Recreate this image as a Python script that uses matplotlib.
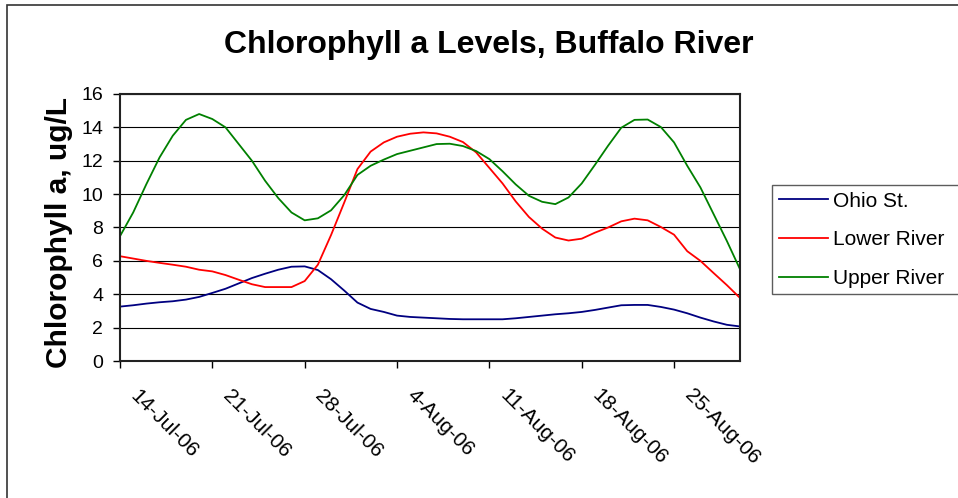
import matplotlib
matplotlib.use("Agg")
import matplotlib.pyplot as plt
import matplotlib.transforms as mtransforms
from matplotlib.patches import Rectangle
import pandas as pd

plt.rcParams['font.family'] = ['Liberation Sans', 'DejaVu Sans']

# daily readings, 14-Jul-06 .. 30-Aug-06
dates = pd.date_range('2006-07-14', '2006-08-30', freq='D')

ohio_st = [3.26, 3.34, 3.44, 3.52, 3.58, 3.68, 3.84, 4.08, 4.33, 4.65, 4.97, 5.23,
           5.47, 5.65, 5.67, 5.45, 4.90, 4.22, 3.50, 3.12, 2.94, 2.72, 2.64, 2.60,
           2.56, 2.52, 2.50, 2.50, 2.50, 2.50, 2.56, 2.64, 2.72, 2.80, 2.86, 2.94,
           3.06, 3.20, 3.34, 3.36, 3.36, 3.24, 3.08, 2.86, 2.60, 2.37, 2.17, 2.07]

lower_river = [6.28, 6.14, 6.00, 5.88, 5.77, 5.65, 5.47, 5.37, 5.15, 4.87, 4.60, 4.43,
               4.43, 4.43, 4.79, 5.77, 7.55, 9.50, 11.50, 12.55, 13.10, 13.44, 13.62, 13.70,
               13.64, 13.44, 13.12, 12.50, 11.57, 10.64, 9.56, 8.63, 7.93, 7.40, 7.22, 7.33,
               7.69, 8.00, 8.37, 8.53, 8.43, 8.03, 7.57, 6.58, 6.00, 5.27, 4.55, 3.78]

upper_river = [7.48, 8.90, 10.60, 12.20, 13.50, 14.45, 14.80, 14.50, 14.00, 13.00, 12.00, 10.80,
               9.76, 8.90, 8.43, 8.55, 9.03, 9.94, 11.15, 11.70, 12.07, 12.40, 12.60, 12.80,
               13.00, 13.02, 12.88, 12.58, 12.10, 11.37, 10.58, 9.90, 9.54, 9.40, 9.80, 10.64,
               11.75, 12.90, 13.98, 14.45, 14.47, 14.02, 13.10, 11.70, 10.40, 8.80, 7.20, 5.50]

tick_dates = pd.to_datetime(['2006-07-14', '2006-07-21', '2006-07-28', '2006-08-04',
                             '2006-08-11', '2006-08-18', '2006-08-25'])
tick_labels = ['14-Jul-06', '21-Jul-06', '28-Jul-06', '4-Aug-06',
               '11-Aug-06', '18-Aug-06', '25-Aug-06']

W, H = 958, 498
fig = plt.figure(figsize=(W / 100, H / 100), dpi=100)
fig.patch.set_facecolor('white')

# outer chart border (only left and top visible)
fig.patches.append(Rectangle((7 / W, -0.05), 1.1, 1 - 5 / H + 0.05, transform=fig.transFigure,
                             fill=False, edgecolor='#333333', linewidth=1.2))

ax = fig.add_axes([120 / W, (H - 361) / H, 620 / W, (361 - 94) / H])
ax.plot(dates, ohio_st, color='#000080', lw=1.3, label='Ohio St.')
ax.plot(dates, lower_river, color='#FF0000', lw=1.3, label='Lower River')
ax.plot(dates, upper_river, color='#008000', lw=1.3, label='Upper River')

ax.set_xlim(dates[0], dates[-1])
ax.set_ylim(0, 16)
ax.set_yticks(range(0, 17, 2))
ax.yaxis.grid(True, color='black', lw=0.8)
ax.set_axisbelow(True)

ax.set_xticks(tick_dates)
ax.set_xticklabels(tick_labels, rotation=-45, ha='left', va='top', rotation_mode='anchor')
ax.tick_params(axis='x', length=5, width=1, pad=13, labelsize=15)
ax.tick_params(axis='y', length=5, width=1, pad=7, labelsize=14)
shift = mtransforms.ScaledTranslation(0.2, 0, fig.dpi_scale_trans)
for lab in ax.get_xticklabels():
    lab.set_transform(lab.get_transform() + shift)

for s in ax.spines.values():
    s.set_linewidth(1.5)
    s.set_color('#222222')

fig.text(59 / W, 1 - 232 / H, 'Chlorophyll a, ug/L', rotation=90,
         ha='center', va='center', fontsize=21.5, fontweight='bold')
fig.text(489 / W, 1 - 45 / H, 'Chlorophyll a Levels, Buffalo River',
         ha='center', va='center', fontsize=23, fontweight='bold')

leg = fig.legend(loc='upper left', bbox_to_anchor=(772 / W, 1 - 185 / H - 0.3, 200 / W, 0.3),
                 mode='expand', fontsize=15, frameon=True, fancybox=False,
                 handlelength=2.35, handletextpad=0.25, labelspacing=0.94,
                 borderaxespad=0, borderpad=0.32)
leg.get_frame().set_edgecolor('#333333')
leg.get_frame().set_linewidth(1.0)

fig.savefig('out.png', dpi=100)
